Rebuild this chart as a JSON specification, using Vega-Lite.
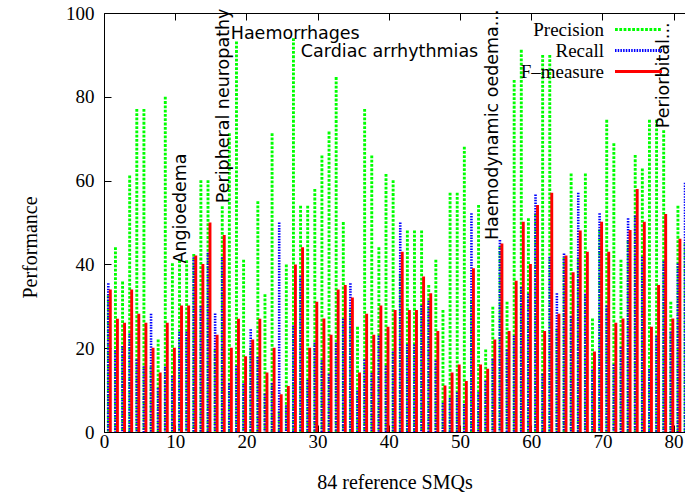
{
  "$schema": "https://vega.github.io/schema/vega-lite/v6.json",
  "width": 581,
  "height": 419,
  "autosize": {"type": "none"},
  "padding": {"left": 104, "top": 13, "right": 0, "bottom": 63},
  "background": "white",
  "config": {
    "view": {"stroke": null},
    "font": "Liberation Serif",
    "axis": {"grid": false, "domainColor": "black", "tickColor": "black", "labelColor": "black", "titleColor": "black", "labelFont": "Liberation Serif", "titleFont": "Liberation Serif", "labelFontSize": 19, "titleFontSize": 20, "titleFontWeight": "normal", "domainWidth": 1, "tickWidth": 1, "labelFlush": false, "labelOverlap": false}
  },
  "datasets": {
    "smq": [
      {"smq":1,"p":32.6,"r":35.5,"f":34.0},{"smq":2,"p":44.1,"r":19.5,"f":27.0},{"smq":3,"p":35.9,"r":20.5,"f":26.1},{"smq":4,"p":61.2,"r":23.5,"f":34.0},{"smq":5,"p":77.1,"r":17.3,"f":28.2},{"smq":6,"p":77.1,"r":15.7,"f":26.1},{"smq":7,"p":15.6,"r":28.2,"f":20.1},{"smq":8,"p":22.1,"r":10.5,"f":14.2},{"smq":9,"p":80.0,"r":15.6,"f":26.1},{"smq":10,"p":40.3,"r":13.4,"f":20.1},
      {"smq":11,"p":41.0,"r":23.9,"f":30.2},{"smq":12,"p":41.0,"r":23.9,"f":30.2},{"smq":13,"p":42.5,"r":41.7,"f":42.1},{"smq":14,"p":60.1,"r":30.1,"f":40.1},{"smq":15,"p":60.1,"r":42.8,"f":50.0},{"smq":16,"p":19.7,"r":28.3,"f":23.2},{"smq":17,"p":53.9,"r":41.7,"f":47.0},{"smq":18,"p":71.3,"r":11.7,"f":20.1},{"smq":19,"p":93.2,"r":15.8,"f":27.0},{"smq":20,"p":41.1,"r":11.6,"f":18.1},
      {"smq":21,"p":20.1,"r":24.5,"f":22.1},{"smq":22,"p":55.1,"r":17.9,"f":27.0},{"smq":23,"p":32.9,"r":9.1,"f":14.2},{"smq":24,"p":71.3,"r":11.7,"f":20.1},{"smq":25,"p":4.9,"r":50.0,"f":9.0},{"smq":26,"p":40.0,"r":6.4,"f":11.0},{"smq":27,"p":94.0,"r":25.4,"f":40.0},{"smq":28,"p":54.0,"r":37.3,"f":44.1},{"smq":29,"p":54.0,"r":12.4,"f":20.1},{"smq":30,"p":58.0,"r":21.3,"f":31.1},
      {"smq":31,"p":66.0,"r":17.1,"f":27.1},{"smq":32,"p":71.7,"r":13.8,"f":23.2},{"smq":33,"p":84.7,"r":21.3,"f":34.0},{"smq":34,"p":50.1,"r":27.0,"f":35.1},{"smq":35,"p":29.3,"r":35.5,"f":32.1},{"smq":36,"p":25.1,"r":9.9,"f":14.2},{"smq":37,"p":77.1,"r":17.3,"f":28.2},{"smq":38,"p":66.0,"r":14.1,"f":23.2},{"smq":39,"p":44.1,"r":23.0,"f":30.2},{"smq":40,"p":61.6,"r":15.8,"f":25.1},
      {"smq":41,"p":60.1,"r":19.2,"f":29.1},{"smq":42,"p":37.7,"r":50.0,"f":43.0},{"smq":43,"p":48.1,"r":20.9,"f":29.1},{"smq":44,"p":48.1,"r":20.9,"f":29.1},{"smq":45,"p":48.1,"r":30.2,"f":37.1},{"smq":46,"p":35.1,"r":31.3,"f":33.1},{"smq":47,"p":41.1,"r":17.0,"f":24.1},{"smq":48,"p":29.1,"r":6.9,"f":11.1},{"smq":49,"p":57.1,"r":8.1,"f":14.2},{"smq":50,"p":57.1,"r":9.4,"f":16.1},
      {"smq":51,"p":68.1,"r":6.7,"f":12.2},{"smq":52,"p":31.3,"r":52.2,"f":39.1},{"smq":53,"p":54.2,"r":9.5,"f":16.1},{"smq":54,"p":19.7,"r":12.2,"f":15.1},{"smq":55,"p":29.9,"r":17.5,"f":22.1},{"smq":56,"p":44.2,"r":45.8,"f":45.0},{"smq":57,"p":31.1,"r":19.7,"f":24.1},{"smq":58,"p":84.0,"r":23.0,"f":36.1},{"smq":59,"p":91.2,"r":34.6,"f":50.2},{"smq":60,"p":51.0,"r":33.0,"f":40.1},
      {"smq":61,"p":52.0,"r":56.7,"f":54.2},{"smq":62,"p":90.0,"r":13.9,"f":24.1},{"smq":63,"p":90.0,"r":41.8,"f":57.1},{"smq":64,"p":24.6,"r":33.1,"f":28.2},{"smq":65,"p":41.6,"r":42.6,"f":42.1},{"smq":66,"p":61.7,"r":27.6,"f":38.1},{"smq":67,"p":41.6,"r":57.1,"f":48.1},{"smq":68,"p":61.7,"r":33.0,"f":43.0},{"smq":69,"p":27.1,"r":14.9,"f":19.2},{"smq":70,"p":48.3,"r":52.2,"f":50.2},
      {"smq":71,"p":74.5,"r":30.2,"f":43.0},{"smq":72,"p":68.9,"r":16.1,"f":26.1},{"smq":73,"p":41.1,"r":20.2,"f":27.1},{"smq":74,"p":45.7,"r":51.0,"f":48.2},{"smq":75,"p":66.1,"r":51.7,"f":58.0},{"smq":76,"p":62.9,"r":41.8,"f":50.2},{"smq":77,"p":74.5,"r":15.1,"f":25.1},{"smq":78,"p":74.5,"r":23.0,"f":35.1},{"smq":79,"p":72.0,"r":40.7,"f":52.0},{"smq":80,"p":31.1,"r":24.0,"f":27.1},
      {"smq":81,"p":54.0,"r":40.2,"f":46.1},{"smq":82,"p":45.0,"r":59.5,"f":51.3}
    ],
    "hnotes": [
      {"label":"Haemorrhages","x":17.8,"y":93.8},
      {"label":"Cardiac arrhythmias","x":27.65,"y":89.4}
    ],
    "vnotes": [
      {"label":"Angioedema","x":11.56,"y":40.2},
      {"label":"Peripheral neuropathy","x":17.6,"y":54.6},
      {"label":"Haemodynamic oedema...","x":55.3,"y":45.8},
      {"label":"Periorbital...","x":79.4,"y":72.5}
    ]
  },
  "resolve": {"axis": {"x": "independent"}},
  "layer": [
    {
      "data": {"name": "smq"},
      "mark": {"type": "rule", "xOffset": -2.8, "strokeWidth": 2.9, "strokeCap": "butt", "clip": true},
      "encoding": {
        "x": {"field": "smq", "type": "quantitative", "scale": {"domain": [0, 81.6], "nice": false, "zero": false},
              "axis": {"orient": "bottom", "values": [0,10,20,30,40,50,60,70,80], "tickSize": -7, "labelPadding": 7, "title": "84 reference SMQs", "titleY": 56, "titleBaseline": "alphabetic"}},
        "y": {"field": "p", "type": "quantitative", "scale": {"domain": [0, 100], "nice": false},
              "axis": {"values": [0,20,40,60,80,100], "tickSize": -7, "labelPadding": 17, "title": "Performance", "titleAngle": 270, "titleX": -68, "titleY": 234, "titleAlign": "center", "titleBaseline": "alphabetic"}},
        "y2": {"datum": 0},
        "color": {"datum": "Precision", "type": "nominal",
                  "scale": {"domain": ["Precision", "Recall", "F–measure"], "range": ["#00ff00", "#0000ff", "#ff0000"]},
                  "legend": {"orient": "none", "legendX": 525, "legendY": 7, "title": null, "symbolType": "M-4,0H4", "symbolSize": 138, "symbolStrokeWidth": 3, "labelAlign": "right", "labelOffset": -44, "labelFont": "Liberation Serif", "labelFontSize": 19, "labelColor": "black", "rowPadding": 1, "padding": 0}},
        "strokeDash": {"datum": "Precision", "type": "nominal",
                  "scale": {"domain": ["Precision", "Recall", "F–measure"], "range": [[2.8, 1.5], [1.5, 1.2], [1, 0]]},
                  "legend": {"orient": "none", "legendX": 525, "legendY": 7, "title": null, "symbolType": "M-4,0H4", "symbolSize": 138, "symbolStrokeWidth": 3, "labelAlign": "right", "labelOffset": -44, "labelFont": "Liberation Serif", "labelFontSize": 19, "labelColor": "black", "rowPadding": 1, "padding": 0}}
      }
    },
    {
      "data": {"name": "smq"},
      "mark": {"type": "rule", "xOffset": -2.8, "strokeWidth": 2.6, "strokeCap": "butt", "clip": true},
      "encoding": {
        "x": {"field": "smq", "type": "quantitative",
              "axis": {"orient": "top", "values": [0,10,20,30,40,50,60,70,80], "tickSize": -7, "labels": false, "title": null}},
        "y": {"field": "r", "type": "quantitative"},
        "y2": {"datum": 0},
        "color": {"datum": "Recall", "type": "nominal"},
        "strokeDash": {"datum": "Recall", "type": "nominal"}
      }
    },
    {
      "data": {"name": "smq"},
      "mark": {"type": "rule", "xOffset": -0.8, "strokeWidth": 2.9, "strokeCap": "butt", "clip": true},
      "encoding": {
        "x": {"field": "smq", "type": "quantitative", "axis": null},
        "y": {"field": "f", "type": "quantitative"},
        "y2": {"datum": 0},
        "color": {"datum": "F–measure", "type": "nominal"},
        "strokeDash": {"datum": "F–measure", "type": "nominal"}
      }
    },
    {
      "data": {"name": "hnotes"},
      "mark": {"type": "text", "font": "DejaVu Sans", "fontSize": 17.5, "align": "left", "baseline": "alphabetic", "color": "black"},
      "encoding": {
        "x": {"field": "x", "type": "quantitative", "axis": null},
        "y": {"field": "y", "type": "quantitative"},
        "text": {"field": "label"}
      }
    },
    {
      "data": {"name": "vnotes"},
      "mark": {"type": "text", "font": "DejaVu Sans", "fontSize": 17.5, "align": "left", "baseline": "alphabetic", "angle": 270, "color": "black"},
      "encoding": {
        "x": {"field": "x", "type": "quantitative", "axis": null},
        "y": {"field": "y", "type": "quantitative"},
        "text": {"field": "label"}
      }
    }
  ]
}
